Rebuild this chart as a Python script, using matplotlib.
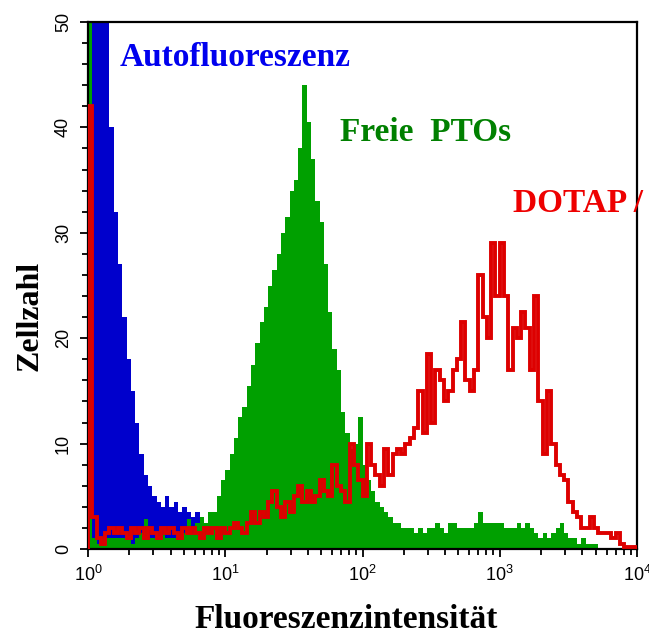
import numpy as np
import matplotlib
matplotlib.use("Agg")
import matplotlib.pyplot as plt
from matplotlib.ticker import MultipleLocator, LogLocator, NullFormatter

# Fluorescence histograms: 128 log-spaced channels from 10^0 to 10^4
n_channels = 128
decades = (0, 4)

# Autofluorescence (cell counts per channel)
auto_counts = [
    60, 60, 60, 60, 55, 40, 32, 27, 22, 18, 15, 12, 9, 7, 6, 5,
    4.5, 4, 5, 4, 4.5, 3.5, 4, 3.5, 3, 3.5, 3, 2.5, 3.5, 2.5, 0, 0,
] + [0] * 96

# Free PTOs
free_counts = [
    60, 1, 0.5, 1, 1, 1, 1, 1, 1, 1, 0.5, 1, 1.5, 2.8, 1, 1,
    1, 1.5, 1, 1, 1, 1.5, 1.5, 2.8, 1.5, 2.5, 3, 2.5, 3.5, 3.5, 5, 6.5,
    7.5, 9, 10.5, 12.5, 13.5, 15.5, 17.5, 19.5, 21.5, 23, 25, 26.5, 28, 30, 31.5, 34,
    35, 38, 44, 40.5, 37, 33, 31, 27, 22.5, 19, 17, 13, 11, 9.5, 10, 12.5,
    8, 6.5, 5.5, 4.5, 4, 3.5, 3, 2.5, 2.5, 2, 2, 2, 1.5, 2, 1.5, 2,
    2, 2.5, 2, 1.5, 2.5, 2.5, 2, 2, 2, 2, 2.5, 3.5, 2.5, 2.5, 2.5, 2.5,
    2.5, 2, 2, 2, 2.5, 2, 2.5, 2, 1.5, 1, 1.5, 1, 1.5, 2, 2.5, 1.5,
    1, 1, 0.5, 1, 0.5, 0.5, 0.5, 0, 0, 0, 0, 0, 0, 0, 0, 0,
]

# DOTAP / PTO complexes
dotap_counts = [
    42, 3, 1, 0.5, 1.5, 2, 1.5, 2, 1.5, 1, 2, 1.5, 2, 1, 2, 1.5,
    1, 2, 1.5, 2, 1.5, 1, 2, 1.5, 2, 1.5, 1, 2, 1.5, 2, 1, 2,
    1.5, 2, 2.5, 2, 1.5, 2.5, 3.5, 2.5, 3.5, 3, 4.5, 5.5, 4, 3, 4.5, 3.5,
    5, 6, 4.5, 5.5, 4.5, 5, 6.5, 5.5, 5, 8, 6, 5.5, 4.5, 10, 8, 6.5,
    5, 10, 8, 7, 6, 9.5, 7, 9, 9.5, 9, 10, 10.5, 11.5, 15, 11, 18.5,
    12, 17, 16, 14, 15, 17, 18, 21.5, 16, 15, 17, 26, 22, 20, 29, 24,
    29, 24, 17, 21, 20, 22.5, 21, 17, 24, 14, 9, 15, 10, 8, 7, 6.5,
    4.5, 3.5, 3, 2, 2, 3, 2, 1.5, 1.5, 1.5, 1, 1.5, 0.5, 0.2, 0.2, 0.2,
]

y_ticks = [0, 10, 20, 30, 40, 50]
x_ticks = [1, 10, 100, 1000, 10000]
x_tick_labels = [r"$\mathregular{10^{0}}$", r"$\mathregular{10^{1}}$",
                 r"$\mathregular{10^{2}}$", r"$\mathregular{10^{3}}$",
                 r"$\mathregular{10^{4}}$"]

plt.rcParams["font.family"] = ["Liberation Sans Narrow", "Liberation Sans", "DejaVu Sans"]
plt.rcParams["mathtext.fontset"] = "custom"
plt.rcParams["mathtext.rm"] = "Liberation Sans Narrow"

edges = np.logspace(decades[0], decades[1], n_channels + 1)

fig = plt.figure(figsize=(6.49, 6.36), dpi=100)
ax = fig.add_axes([88 / 649, 1 - 549 / 636, (637 - 88) / 649, (549 - 22) / 636])

ax.stairs(auto_counts, edges, fill=True, color="#0000cc", baseline=0, zorder=1)
ax.stairs(free_counts, edges, fill=True, color="#00a000", baseline=0, zorder=2)
ax.stairs(dotap_counts, edges, fill=False, color="#dd0000", baseline=0,
          linewidth=2.8, zorder=3)

ax.set_xscale("log")
ax.set_xlim(1, 1e4)
ax.set_ylim(0, 50)

ax.set_xticks(x_ticks)
ax.set_xticklabels(x_tick_labels)
ax.xaxis.set_minor_locator(LogLocator(base=10, subs=np.arange(2, 10)))
ax.xaxis.set_minor_formatter(NullFormatter())
ax.set_yticks(y_ticks)
ax.yaxis.set_minor_locator(MultipleLocator(2))

ax.tick_params(axis="both", which="both", direction="out", color="black",
               width=1.3, labelsize=13)
ax.tick_params(axis="both", which="major", length=5.5)
ax.tick_params(axis="both", which="minor", length=4.5)
ax.tick_params(axis="y", labelrotation=90, pad=6)
ax.tick_params(axis="x", pad=6)
for lbl in ax.get_yticklabels():
    lbl.set_verticalalignment("center")

for side in ("left", "bottom", "top", "right"):
    ax.spines[side].set_linewidth(1.6)
    ax.spines[side].set_color("black")

serif_bold = dict(family=["Liberation Serif", "DejaVu Serif"], weight="bold")

ax.text(120 / 649, 1 - 66 / 636, "Autofluoreszenz", transform=fig.transFigure,
        color="#0000ee", fontsize=24, ha="left", va="baseline", **serif_bold)
ax.text(340 / 649, 1 - 141 / 636, "Freie  PTOs", transform=fig.transFigure,
        color="#008000", fontsize=24, ha="left", va="baseline", **serif_bold)
fig.text(513 / 649, 1 - 212 / 636, "DOTAP /", color="#ee0000", fontsize=24,
         ha="left", va="baseline", **serif_bold)

fig.text(30 / 649, 1 - 316 / 636, "Zellzahl", rotation=90, color="black",
         fontsize=23, ha="center", va="center", **serif_bold)
fig.text(346 / 649, 1 - 628 / 636, "Fluoreszenzintensität", color="black",
         fontsize=24, ha="center", va="baseline", **serif_bold)

fig.savefig("out.png", dpi=100)
